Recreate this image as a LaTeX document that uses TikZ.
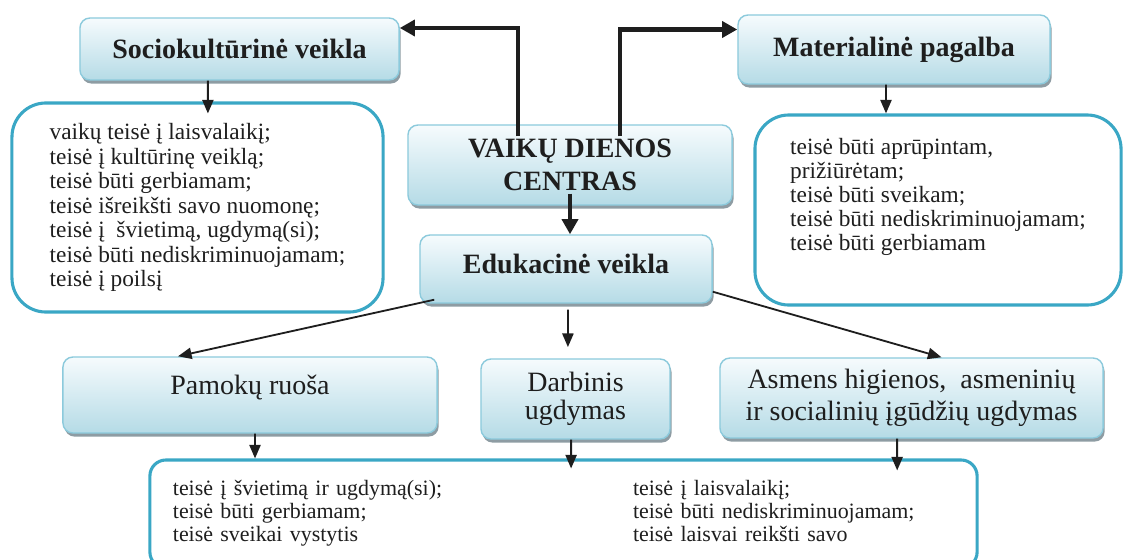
\documentclass[tikz,border=0pt]{standalone}
\usepackage{fontspec}
\setmainfont{Liberation Serif}
\usetikzlibrary{arrows.meta,shadows}
\definecolor{boxtop}{HTML}{F6FBFD}
\definecolor{boxbottom}{HTML}{B5DBE6}
\definecolor{boxline}{HTML}{8CCADC}
\definecolor{boxshadow}{HTML}{8E9CA3}
\definecolor{listline}{HTML}{3AA7C5}
\definecolor{ink}{HTML}{1E1E1E}

\begin{document}
\begin{tikzpicture}[
    x=0.025cm, y=-0.025cm,
    headbox/.style={rectangle, draw=boxline, line width=1pt, top color=boxtop, bottom color=boxbottom, rounded corners=0.25cm, drop shadow={shadow xshift=0.04cm, shadow yshift=-0.09cm, fill=boxshadow, opacity=1}, text=ink, align=center},
    boldhead/.style={headbox, font=\fontsize{19.9pt}{23.5pt}\selectfont\bfseries},
    plainhead/.style={headbox, font=\fontsize{19.9pt}{#1}\selectfont},
    listbox/.style={rectangle, draw=listline, fill=white, line width=2.2pt, rounded corners=#1, text=ink, align=left, font=\fontsize{16.6pt}{17.4pt}\selectfont},
    arrow/.style={-{Triangle[length=0.34cm, width=0.28cm]}, line width=1.3pt, ink},
    bigarrow/.style={-{Triangle[length=0.38cm, width=0.4cm]}, line width=3.5pt, ink}
]
    \useasboundingbox (0,0) rectangle (1123,559);
    \clip (0,0) rectangle (1123,559);

    % top row
    \node[boldhead, minimum width=7.975cm, minimum height=1.55cm] (soc) at (239.5,49) {Sociokultūrinė veikla};
    \node[boldhead, minimum width=7.8cm, minimum height=1.725cm] (mat) at (894,49.5) {Materialinė pagalba};
    \node[boldhead, minimum width=8.1cm, minimum height=2cm] (vdc) at (570,165) {VAIKŲ DIENOS\\CENTRAS};
    \node[boldhead, minimum width=7.3cm, minimum height=1.7cm, text height=0.5cm, text depth=0.3cm] (edu) at (566,269) {Edukacinė veikla};

    % lists
    \node[listbox=0.85cm, minimum width=9.275cm, minimum height=5.225cm] (llist) at (197.5,207.5) {vaikų teisė į laisvalaikį;\\teisė į kultūrinę veiklą;\\teisė būti gerbiamam;\\teisė išreikšti savo nuomonę;\\teisė į~ švietimą, ugdymą(si);\\teisė būti nediskriminuojamam;\\teisė į poilsį};
    \node[listbox=0.85cm, minimum width=9.15cm, minimum height=4.75cm, text depth=0.8cm, font=\fontsize{16.6pt}{17.1pt}\selectfont] (rlist) at (938,210) {teisė būti aprūpintam,\\prižiūrėtam;\\teisė būti sveikam;\\teisė būti nediskriminuojamam;\\teisė būti gerbiamam};

    % bottom row
    \node[plainhead=20pt, minimum width=9.35cm, minimum height=1.9cm, text height=0.5cm, text depth=0.55cm] (pam) at (250,395) {Pamokų ruoša};
    \node[plainhead=20pt, minimum width=4.725cm, minimum height=2cm] (darb) at (575.5,399) {Darbinis\\ugdymas};
    \node[plainhead=22.8pt, minimum width=9.575cm, minimum height=2cm] (asm) at (911.5,398) {Asmens higienos,~ asmeninių\\ir socialinių įgūdžių ugdymas};
    \node[listbox=0.4cm, minimum width=20.675cm, minimum height=2.7cm, text width=19.525cm, inner xsep=0.575cm, font=\fontsize{15.6pt}{16.4pt}\selectfont] (blist) at (563.5,514) {%
        \begin{tabular}{@{}p{11.5cm}@{}l@{}}
        teisė į švietimą ir ugdymą(si); & teisė į laisvalaikį;\\
        teisė būti gerbiamam; & teisė būti nediskriminuojamam;\\
        teisė sveikai vystytis & teisė laisvai reikšti savo
        \end{tabular}};

    % connectors
    \draw[bigarrow] ([xshift=-1.3cm,yshift=-0.3cm]vdc.north) |- ([yshift=0.525cm]soc.east);
    \draw[bigarrow] ([xshift=1.25cm,yshift=-0.3cm]vdc.north) |- ([yshift=0.5cm]mat.west);
    \draw[bigarrow] ([yshift=0.3cm]vdc.south) -- (edu.north -| vdc.south);

    \draw[arrow] ([xshift=-0.79cm]soc.south) -- ([xshift=0.26cm,yshift=-0.3cm]llist.north);
    \draw[arrow] ([xshift=-0.2cm]mat.south) -- ([xshift=-1.3cm]rlist.north);
    \draw[arrow] ([xshift=0.375cm,yshift=0.1cm]edu.south west) -- ([xshift=-1.8cm]pam.north);
    \draw[arrow] ([xshift=0.05cm,yshift=-0.15cm]edu.south) -- ([xshift=-0.19cm,yshift=0.28cm]darb.north);
    \draw[arrow] ([yshift=0.3cm]edu.south east) -- ([xshift=0.75cm]asm.north);
    \draw[arrow] ([xshift=0.125cm]pam.south) -- ([xshift=-7.71cm]blist.north);
    \draw[arrow] ([xshift=-0.11cm]darb.south) -- ([xshift=0.19cm,yshift=-0.25cm]blist.north);
    \draw[arrow] ([xshift=-0.36cm]asm.south) -- ([xshift=8.34cm,yshift=-0.3cm]blist.north);
\end{tikzpicture}
\end{document}
